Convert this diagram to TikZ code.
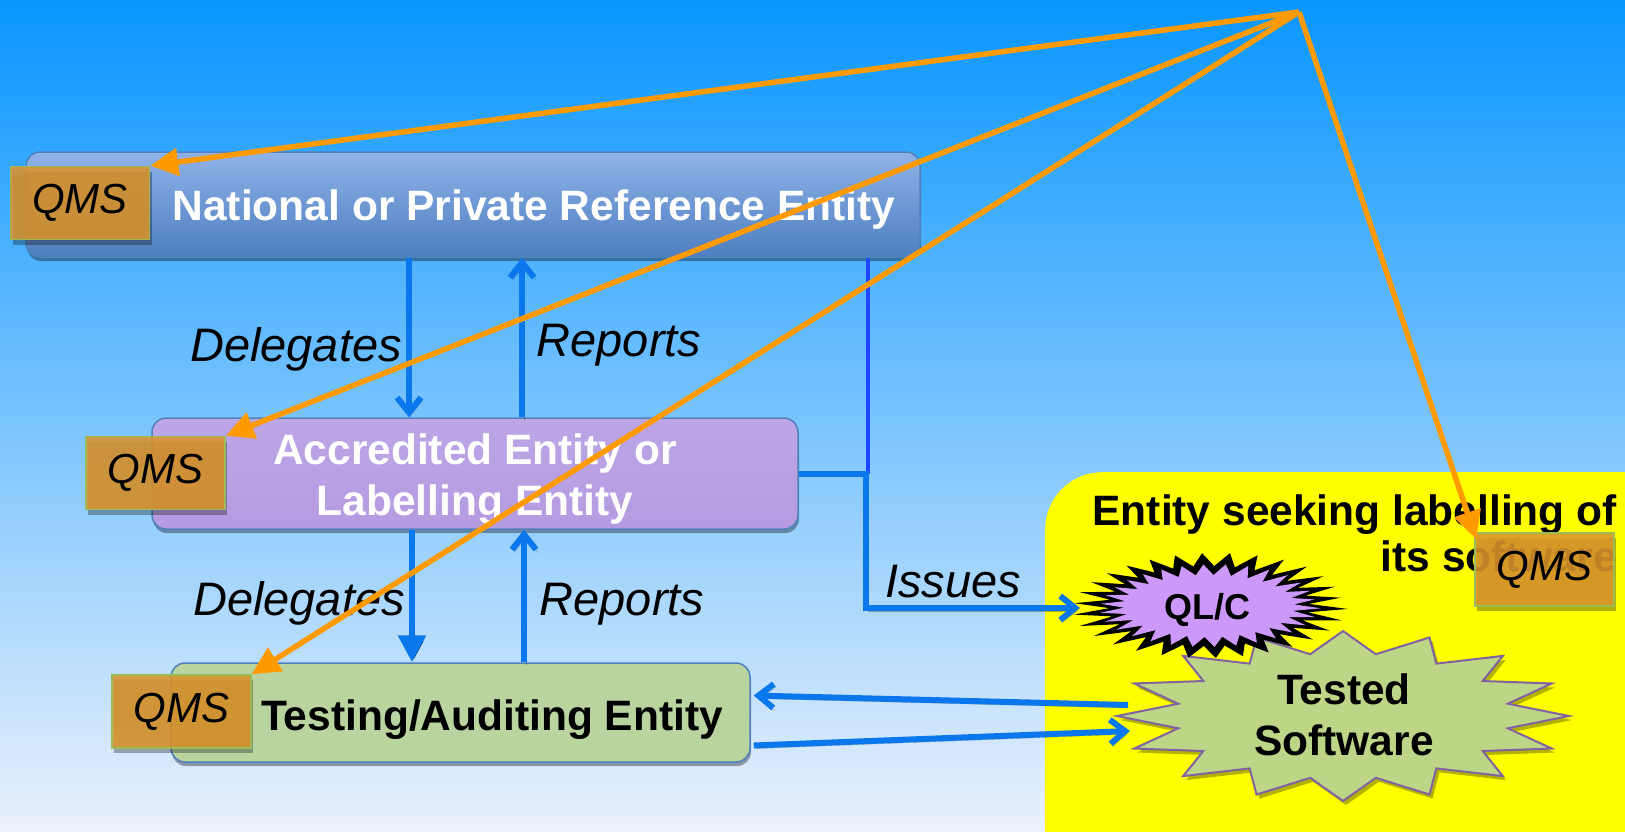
\documentclass[tikz,border=0pt]{standalone}
\usepackage{fontspec}
\setmainfont{Liberation Sans}
\usetikzlibrary{arrows.meta,shadows,calc}
\definecolor{bgtop}{HTML}{0896FF}
\definecolor{bgmid}{HTML}{90BEFF}
\definecolor{bgbot}{HTML}{EAF1FC}
\definecolor{nretop}{HTML}{8FB2E8}
\definecolor{nrebot}{HTML}{4E7FC0}
\definecolor{aefill}{HTML}{B59BE1}
\definecolor{aetop}{HTML}{BCA6E6}
\definecolor{taefill}{HTML}{B9D49F}
\definecolor{boxline}{HTML}{4F81BD}
\definecolor{qmsfill}{HTML}{DA942C}
\definecolor{qmsline}{HTML}{9BBB59}
\definecolor{orangeln}{HTML}{FF9A00}
\definecolor{blueln}{HTML}{0A78EC}
\definecolor{darkblueln}{HTML}{1E46FF}
\definecolor{yellowbg}{HTML}{FFFF00}
\definecolor{tsfill}{HTML}{BDD587}
\definecolor{tsline}{HTML}{8064A2}
\definecolor{qlfill}{HTML}{CC99FA}
\begin{document}
\begin{tikzpicture}[x=1pt,y=-1pt,
  entitybox/.style={rounded corners=14pt, draw=boxline, line width=1.5pt, inner sep=0pt,
     drop shadow={shadow xshift=1pt, shadow yshift=-4pt, opacity=0.35, fill=black}},
  qmsbox/.style={draw=qmsline, line width=1.5pt, fill=qmsfill, fill opacity=0.88, text opacity=1,
     inner sep=0pt, minimum width=139pt, minimum height=73pt,
     font=\fontsize{42}{42}\selectfont\itshape,
     drop shadow={shadow xshift=2pt, shadow yshift=-5pt, opacity=0.3, fill=black}},
  boldtxt/.style={font=\fontsize{42.5}{51}\selectfont\bfseries, inner sep=0pt},
  lbl/.style={font=\fontsize{47}{47}\selectfont\itshape, inner sep=0pt, anchor=base},
  conn/.style={draw=blueln, line width=6pt,
     preaction={draw=black, draw opacity=0.3, transform canvas={shift={(2pt,-3pt)}}}},
  vee/.style={-{Straight Barb[length=15pt,width=24pt]}},
  tri/.style={-{Triangle[length=27pt,width=27pt]}},
  orng/.style={draw=orangeln, line width=5.5pt, -{Triangle[length=28pt,width=27pt]}}
]
\useasboundingbox (0,0) rectangle (1625,831);
\clip (0,0) rectangle (1625,831);
\shade[top color=bgtop, middle color=bgmid, bottom color=bgbot] (0,0) rectangle (1625,831);

% yellow area
\node[fill=yellowbg, rounded corners=57pt, minimum width=700pt, minimum height=450pt,
      inner sep=0pt, anchor=north west] (seek) at (1045,472) {};

% entity boxes
\node[entitybox, top color=nretop, bottom color=nrebot, minimum width=894pt, minimum height=105pt] (nre) at (473,204.5) {};
\node[entitybox, top color=aetop, bottom color=aefill, minimum width=646pt, minimum height=111pt] (ae) at (475,473.5) {};
\node[entitybox, fill=taefill, minimum width=579pt, minimum height=99pt] (tae) at (460.5,712.5) {};

\node[boldtxt, text=white, anchor=base] (nret) at (534,220.5) {National or Private Reference Entity};
\node[boldtxt, text=white, align=center] (aet) at (475,479.5) {Accredited Entity or\\Labelling Entity};
\node[boldtxt, text=black, anchor=base] (taet) at (492,730) {Testing/Auditing Entity};

\node[boldtxt, text=black, align=right, anchor=east, font=\fontsize{42.5}{46}\selectfont\bfseries] (seekt) at (1617,533.5) {Entity seeking labelling of\\its software};

% QMS boxes
\node[qmsbox] (q1) at (80,203) {QMS};
\node[qmsbox] (q2) at (155.5,473) {QMS};
\node[qmsbox] (q3) at (181.5,711.5) {QMS};
\node[qmsbox] (q4) at (1544.5,569.5) {QMS};

% Tested software starburst
\fill[black, opacity=0.3] plot[samples=32, domain=0:31, variable=\k]
  ({1346+ifthenelse(mod(round(\k),2)==0,226,168)*cos(90+\k*11.25)},
   {720+ifthenelse(mod(round(\k),2)==0,85,63)*sin(90+\k*11.25)}) -- cycle;
\filldraw[fill=tsfill, draw=tsline, line width=2pt, line join=miter] plot[samples=32, domain=0:31, variable=\k]
  ({1343+ifthenelse(mod(round(\k),2)==0,226,168)*cos(90+\k*11.25)},
   {716+ifthenelse(mod(round(\k),2)==0,85,63)*sin(90+\k*11.25)}) -- cycle;
\node[boldtxt, align=center] (ts) at (1344,715) {Tested\\Software};

% QL/C starburst: black outer star with purple star inside
\fill[black] plot[samples=60, domain=0:59, variable=\k]
  ({1209+ifthenelse(mod(round(\k),2)==0,139-8*abs(sin(\k*97)),100)*cos(3+\k*6)},
   {606+ifthenelse(mod(round(\k),2)==0,56-4*abs(sin(\k*97)),40)*sin(3+\k*6)}) -- cycle;
\fill[qlfill] plot[samples=60, domain=0:59, variable=\k]
  ({1209+ifthenelse(mod(round(\k),2)==0,112-7*abs(sin(\k*97)),85)*cos(3+\k*6)},
   {606+ifthenelse(mod(round(\k),2)==0,44-3*abs(sin(\k*97)),31)*sin(3+\k*6)}) -- cycle;
\node[font=\fontsize{36}{36}\selectfont\bfseries, inner sep=0pt, anchor=base] (qlc) at (1207,619) {QL/C};

% coordinates for connector columns
\coordinate (d1) at (409,0);
\coordinate (r1) at (522,0);
\coordinate (d2) at (412,0);
\coordinate (r2) at (524,0);
\coordinate (isv) at (868,0);
\coordinate (isbend) at (866,608);
\coordinate (qltip) at (1080,608);
\coordinate (tsA) at (1128,705);
\coordinate (tsB) at (1130,731);
\coordinate (apex) at (1299,12);

% blue connectors
\draw[conn, vee] (nre.south -| d1) -- (ae.north -| d1);
\draw[conn, vee] (ae.north -| r1) -- (nre.south -| r1);
\draw[conn, tri] (ae.south -| d2) -- (tae.north -| d2);
\draw[conn, vee] (tae.north -| r2) -- (ae.south -| r2);
\draw[draw=darkblueln, line width=4.5pt] (nre.south -| isv) -- (ae.east -| isv);
\draw[conn, vee] (ae.east) -| (isbend) -- (qltip);
\draw[conn, vee] (tsA) -- ($(tae.east)+(3,-17)$);
\draw[conn, vee] ($(tae.east)+(3,33)$) -- (tsB);

% labels
\node[lbl] (lab1) at (296,361) {Delegates};
\node[lbl] (lab2) at (619,356) {Reports};
\node[lbl] (lab3) at (299,615) {Delegates};
\node[lbl] (lab4) at (622,615) {Reports};
\node[lbl] (lab5) at (953,597) {Issues};

% orange arrows
\draw[orng] (apex) -- (q1.north east);
\draw[orng] (apex) -- (q2.north east);
\draw[orng] (apex) -- (q3.north east);
\draw[orng] (apex) -- ([xshift=2pt,yshift=-7pt]q4.north west);
\end{tikzpicture}
\end{document}
